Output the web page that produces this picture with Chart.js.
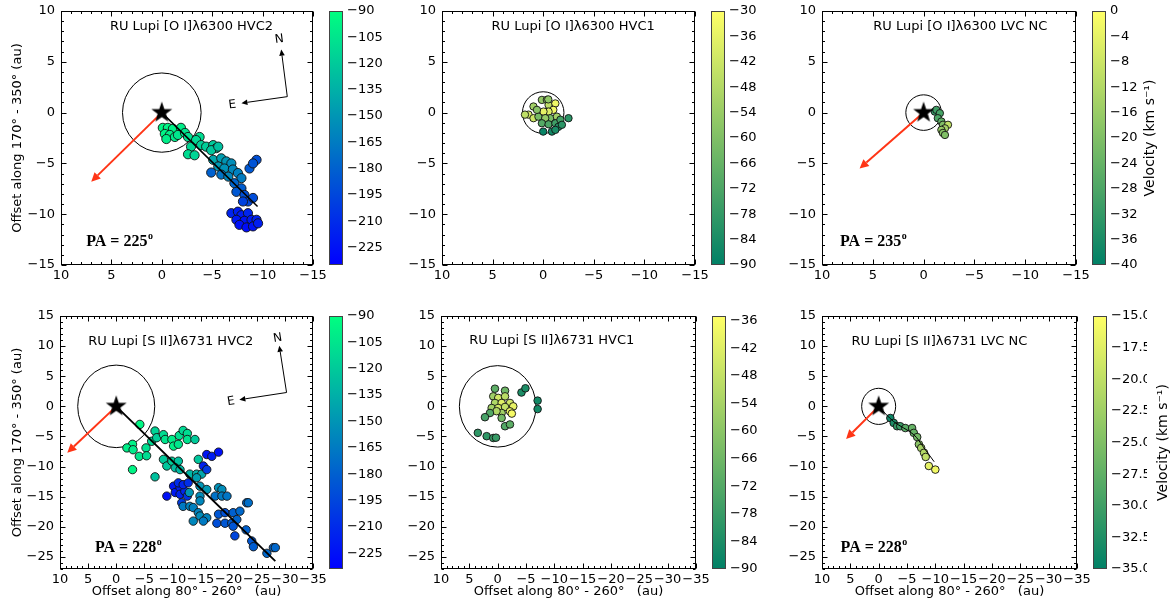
<!DOCTYPE html>
<html>
<head>
<meta charset="utf-8">
<script src="https://cdn.jsdelivr.net/npm/chart.js@4.4.0/dist/chart.umd.min.js"></script>
<style>
  body { margin: 0; background: #fff; }
  #wrap { position: relative; width: 1172px; height: 606px; }
  #wrap canvas { position: absolute; left: 0; top: 0; }
</style>
</head>
<body>
<div id="wrap">
  <canvas id="c1" width="1172" height="606"></canvas>
  <canvas id="c2" width="1172" height="606"></canvas>
  <canvas id="c3" width="1172" height="606"></canvas>
  <canvas id="c4" width="1172" height="606"></canvas>
  <canvas id="c5" width="1172" height="606"></canvas>
  <canvas id="c6" width="1172" height="606"></canvas>
</div>
<script>
// tick labels
const ticksTop = [10, 5, 0, -5, -10, -15];
const xTicksBottom = [10, 5, 0, -5, -10, -15, -20, -25, -30, -35];
const yTicksBottom = [15, 10, 5, 0, -5, -10, -15, -20, -25];
const cbTicksHvc2 = [-90, -105, -120, -135, -150, -165, -180, -195, -210, -225];
const cbTicksOiHvc1 = [-30, -36, -42, -48, -54, -60, -66, -72, -78, -84, -90];
const cbTicksOiLvc = [0, -4, -8, -12, -16, -20, -24, -28, -32, -36, -40];
const cbTicksSiiHvc1 = [-36, -42, -48, -54, -60, -66, -72, -78, -84, -90];
const cbTicksSiiLvc = [-15, -17.5, -20, -22.5, -25, -27.5, -30, -32.5, -35];

// [O I] 6300 HVC2
const oiHvc2X = [-0.1, -0.6, -1.1, -1.9, -0.3, -0.8, -0.45, -1.3, -1.6, -2.3, -2.6,
  -3.75, -3.4, -2.9, -2.6, -3.25, -3.9, -4.4, -5.1, -5.4, -4.9, -5.6,
  -5.1, -5.9, -6.4, -6.9, -5.6, -6.2, -7.05, -4.9, -5.9, -6.6, -7.55, -7.9, -8.7, -9.4, -9.05,
  -7.2, -7.9, -7.4, -8.2, -8.55, -9.05, -8.05,
  -6.9, -7.55, -7.9, -8.55, -7.4, -8.2, -8.9, -9.4, -7.7, -8.4, -9.05, -9.55];
const oiHvc2Y = [-1.5, -1.5, -1.6, -1.5, -2.1, -2.2, -2.6, -2.4, -2.2, -2.0, -2.4,
  -2.4, -2.7, -3.35, -4.1, -4.2, -3.2, -3.35, -3.2, -3.5, -3.7, -3.35,
  -4.65, -4.5, -4.8, -5.0, -5.3, -5.5, -5.6, -5.9, -6.1, -6.3, -5.95, -6.45, -5.5, -4.65, -5.0,
  -6.95, -7.45, -7.8, -8.1, -8.75, -8.4, -8.75,
  -9.9, -9.75, -10.1, -9.9, -10.55, -10.65, -10.55, -10.55, -11.05, -11.3, -11.2, -10.9];
const oiHvc2V = [-95, -96, -98, -100, -97, -99, -100, -102, -104, -105, -108,
  -110, -112, -112, -110, -114, -116, -118, -120, -124, -122, -126,
  -140, -145, -150, -155, -148, -152, -158, -180, -170, -160, -162, -165, -185, -190, -188,
  -178, -182, -185, -190, -195, -192, -198,
  -215, -218, -220, -214, -222, -225, -220, -216, -226, -228, -224, -218];

// [O I] 6300 HVC1
const oiHvc1X = [0.96, 1.45, 0.96, 0.47, 0.13, -0.36, -0.53, -1.2, -1.0, -0.53,
  -0.03, 0.62, -0.7, -0.2, -1.35, 0.13, -0.53, -1.2, -1.7, -2.5,
  -1.5, 0.0, -0.86, -1.2, -1.85, 1.8, -0.5];
const oiHvc1Y = [0.6, -0.2, -0.55, -0.4, 1.25, 1.25, 0.75, 0.9, 0.27, 0.1,
  0.1, 0.27, -0.55, -0.55, -0.4, -1.05, -1.15, -1.05, -0.7, -0.55,
  -1.4, -1.87, -1.87, -1.7, -1.2, -0.2, 1.3];
const oiHvc1V = [-52, -40, -42, -62, -55, -56, -45, -34, -33, -38,
  -36, -58, -62, -55, -52, -70, -72, -75, -74, -80,
  -82, -88, -86, -84, -80, -45, -56];

// [O I] 6300 LVC NC
const oiLvcX = [-1.1, -1.25, -1.6, -1.4, -1.75, -1.9, -2.4, -2.1, -1.75, -1.9, -2.1];
const oiLvcY = [0.1, 0.27, -0.06, -0.55, -0.88, -1.2, -1.2, -1.55, -1.7, -2.0, -2.2];
const oiLvcV = [-32, -30, -29, -28, -25, -20, -10, -14, -16, -18, -20];

// [S II] 6731 HVC2
const siiHvc2X = [-4.2, -2.9, -1.9, -3.0, -4.1, -2.9, -5.3, -5.4, -6.3, -6.9, -7.2, -8.4, -8.7, -9.9, -10.2, -11.05,
  -11.2, -11.9, -12.65, -12.65, -14.0, -6.9, -8.4, -9.0, -9.9, -11.05, -10.5, -11.35, -14.6, -13.1, -14.3, -15.2,
  -16.1, -17.0, -18.2, -15.5, -16.1,
  -9.0, -10.2, -10.5, -11.35, -11.35, -12.2, -12.65, -11.05, -11.9, -12.8, -11.65, -13.0, -11.9, -13.1,
  -14.3, -14.9, -16.1, -18.2, -18.8, -17.6, -18.8, -19.7, -14.9, -14.9, -13.7, -14.6, -13.7, -14.9, -16.1, -15.5,
  -18.2, -19.35, -20.8, -22.0, -17.9, -19.35, -20.55, -21.45, -20.8, -23.2, -23.5, -21.1, -23.1, -24.1, -24.4, -26.8, -27.95, -28.3];
const siiHvc2Y = [-3.0, -6.3, -6.9, -7.2, -8.3, -10.5, -6.9, -8.2, -5.8, -4.1, -5.2, -4.7, -5.5, -5.5, -6.6, -6.3,
  -4.85, -4.0, -4.5, -5.5, -5.5, -11.7, -8.8, -9.9, -9.1, -9.1, -10.2, -10.5, -8.8, -11.25, -11.25, -11.25,
  -8.0, -8.3, -7.6, -9.9, -10.5,
  -14.9, -13.25, -14.3, -13.5, -14.6, -14.1, -14.9, -12.7, -13.0, -12.7, -16.0, -14.3, -16.6, -16.6,
  -11.85, -13.25, -13.8, -13.5, -13.8, -14.9, -14.9, -14.9, -14.9, -15.7, -16.8, -17.65, -19.05, -18.2, -18.5, -19.05,
  -17.9, -17.65, -17.65, -17.4, -19.4, -19.4, -19.4, -18.8, -19.9, -16.0, -16.0, -21.5, -20.5, -22.35, -23.3, -24.4, -23.45, -23.45];
const siiHvc2V = [-95, -98, -100, -102, -104, -96, -108, -110, -112, -115, -118, -110, -105, -100, -98, -104,
  -108, -112, -110, -106, -120, -125, -120, -122, -118, -125, -128, -130, -122, -132, -135, -140,
  -222, -218, -225, -215, -200,
  -225, -222, -220, -218, -215, -212, -205, -210, -214, -208, -200, -150, -165, -160,
  -145, -150, -148, -152, -155, -170, -165, -168, -155, -158, -162, -160, -158, -155, -160, -165,
  -185, -188, -180, -175, -190, -185, -182, -178, -186, -175, -172, -195, -180, -185, -182, -175, -178, -176];

// [S II] 6731 HVC1
const siiHvc1X = [0.48, -1.3, 0.78, -0.1, -1.3, 0.48, -0.7, -2.17, -2.75, 1.06,
  -0.1, -1.3, -2.17, -2.5, -0.7, 0.2, 1.36, 2.24, -0.7, -1.3,
  -2.17, -4.2, -4.9, -7.05, -7.05, 3.5, 1.94, 0.78, 0.3];
const siiHvc1Y = [2.93, 2.6, 1.66, 1.4, 1.66, 0.56, 0.56, 0.56, 0.0, -0.27,
  -0.27, -0.1, -0.83, -1.2, -1.1, -0.8, -1.1, -1.8, -1.93, -3.3,
  -3.0, 2.3, 3.0, 0.95, -0.45, -4.4, -4.95, -5.25, -5.2];
const siiHvc1V = [-70, -66, -56, -45, -50, -52, -42, -45, -40, -55,
  -45, -48, -40, -37, -55, -52, -72, -75, -65, -72,
  -70, -84, -84, -86, -86, -80, -80, -78, -78];

// [S II] 6731 LVC NC
const siiLvcX = [-2.06, -2.65, -3.25, -3.8, -4.7, -5.9, -6.2, -6.8, -7.1, -7.5, -8.0, -8.3, -8.85, -10.0];
const siiLvcY = [-1.93, -2.75, -3.3, -3.3, -3.6, -3.6, -4.4, -5.1, -6.3, -6.9, -7.7, -8.4, -9.9, -10.5];
const siiLvcV = [-34, -33, -31, -30.5, -28, -27, -27, -26, -24, -22, -21, -20, -17, -16];

// jet axis lines and disk-axis arrows
const oiHvc2LineX = [0, -9.5], oiHvc2LineY = [0, -9.25];
const siiHvc2LineX = [0, -28.3], siiHvc2LineY = [0, -25.7];
const siiLvcLineX = [0, -2.6, -6.2, -8.0, -9.8], siiLvcLineY = [0, -2.5, -4.7, -6.9, -9.2];
const arrowOiHvc2 = [7.0, -6.8], arrowOiLvc = [6.3, -5.5], arrowSiiHvc2 = [8.7, -7.7], arrowSiiLvc = [5.75, -5.4];
const compassTop = { corner: [-12.45, 1.57], n: [-11.85, 6.2], e: [-7.9, 0.93], nText: [-11.65, 7.2], eText: [-7.0, 0.75] };
const compassBottom = { corner: [-30.3, 2.3], n: [-29.0, 10.05], e: [-21.9, 1.1], nText: [-28.7, 11.3], eText: [-20.4, 0.8] };

Chart.defaults.font.family = "'DejaVu Sans', sans-serif";
Chart.defaults.font.size = 13;
Chart.defaults.color = '#000';

const winter = t => `rgb(0,${Math.round(255 * t)},${Math.round(255 * (1 - 0.5 * t))})`;
const summer = t => `rgb(${Math.round(255 * t)},${Math.round(255 * (0.5 + 0.5 * t))},102)`;
const fmt = (v, d) => (v < 0 ? '\u2212' : '') + Math.abs(v).toFixed(d);

function makeStar(r) {
  const c = document.createElement('canvas');
  c.width = c.height = 2 * r + 2;
  const g = c.getContext('2d');
  g.translate(r + 1, r + 1);
  g.beginPath();
  for (let i = 0; i < 10; i++) {
    const rr = i % 2 ? r * 0.4 : r;
    const a = -Math.PI / 2 + i * Math.PI / 5;
    g.lineTo(rr * Math.cos(a), rr * Math.sin(a));
  }
  g.closePath();
  g.fillStyle = '#000';
  g.fill();
  return c;
}
const starImg = makeStar(11);

function drawArrow(ctx, x0, y0, x1, y1, color, lw, hl, hw) {
  const a = Math.atan2(y1 - y0, x1 - x0);
  const bx = x1 - hl * Math.cos(a), by = y1 - hl * Math.sin(a);
  ctx.strokeStyle = color; ctx.fillStyle = color; ctx.lineWidth = lw;
  ctx.beginPath(); ctx.moveTo(x0, y0); ctx.lineTo(bx, by); ctx.stroke();
  ctx.beginPath(); ctx.moveTo(x1, y1);
  ctx.lineTo(bx + hw * Math.sin(a), by - hw * Math.cos(a));
  ctx.lineTo(bx - hw * Math.sin(a), by + hw * Math.cos(a));
  ctx.closePath(); ctx.fill();
}

// scales report label overhang as padding; zero it so the layout keeps our chart areas
function noPad(s) { s.paddingTop = s.paddingBottom = s.paddingLeft = s.paddingRight = 0; }

function panelPlugin(p) {
  return {
    id: 'panel' + p.id,
    beforeDatasetsDraw(chart) {
      const { ctx, chartArea: a } = chart;
      const xs = chart.scales.x, ys = chart.scales.y;
      const cx = xs.getPixelForValue(0), cy = ys.getPixelForValue(0);
      ctx.save();
      ctx.beginPath(); ctx.rect(a.left, a.top, a.right - a.left, a.bottom - a.top); ctx.clip();
      const rx = Math.abs(xs.getPixelForValue(p.circleR) - cx);
      const ry = Math.abs(ys.getPixelForValue(p.circleR) - cy);
      ctx.beginPath(); ctx.ellipse(cx, cy, rx, ry, 0, 0, 2 * Math.PI);
      ctx.strokeStyle = '#000'; ctx.lineWidth = 1; ctx.stroke();
      if (p.arrow) {
        drawArrow(ctx, cx, cy, xs.getPixelForValue(p.arrow[0]), ys.getPixelForValue(p.arrow[1]), '#ff3516', 2, 9, 4.5);
      }
      ctx.restore();
    },
    afterDatasetsDraw(chart) {
      const { ctx, chartArea: a } = chart;
      const xs = chart.scales.x, ys = chart.scales.y;
      const w = a.right - a.left, h = a.bottom - a.top;
      ctx.save();
      if (p.compass) {
        const c = p.compass;
        const P = q => [xs.getPixelForValue(q[0]), ys.getPixelForValue(q[1])];
        const o = P(c.corner), n = P(c.n), e = P(c.e);
        drawArrow(ctx, o[0], o[1], n[0], n[1], '#000', 1, 6, 2.8);
        drawArrow(ctx, o[0], o[1], e[0], e[1], '#000', 1, 6, 2.8);
        const rot = Math.atan2(n[0] - o[0], o[1] - n[1]);
        ctx.font = "12px 'DejaVu Sans'"; ctx.fillStyle = '#000';
        ctx.textAlign = 'center'; ctx.textBaseline = 'middle';
        [['N', c.nText], ['E', c.eText]].forEach(([t, q]) => {
          const pt = P(q);
          ctx.save(); ctx.translate(pt[0], pt[1]); ctx.rotate(rot); ctx.fillText(t, 0, 0); ctx.restore();
        });
      }
      ctx.font = "13px 'DejaVu Sans'"; ctx.fillStyle = '#000';
      ctx.textAlign = 'left'; ctx.textBaseline = 'middle';
      ctx.fillText(p.title, a.left + p.titlePos[0] * w, a.top + p.titlePos[1] * h);
      if (p.pa) {
        const px = a.left + p.paPos[0] * w, py = a.top + p.paPos[1] * h;
        ctx.font = "bold 16px 'Liberation Serif'"; ctx.textBaseline = 'alphabetic';
        ctx.fillText(p.pa, px, py + 6);
        const tw = ctx.measureText(p.pa).width;
        ctx.font = "bold 10px 'Liberation Serif'";
        ctx.fillText('o', px + tw + 0.5, py - 1);
      }
      ctx.restore();
    },
    afterDraw(chart) {
      const { ctx, chartArea: a } = chart;
      const xs = chart.scales.x, ys = chart.scales.y;
      ctx.save();
      ctx.strokeStyle = '#000'; ctx.lineWidth = 1;
      const L = Math.round(a.left) + 0.5, T = Math.round(a.top) + 0.5;
      const R = Math.round(a.right) - 0.5, B = Math.round(a.bottom) - 0.5;
      ctx.strokeRect(L, T, R - L, B - T);
      ctx.beginPath();
      for (let v = Math.ceil(xs.min); v <= xs.max; v++) {
        const len = v % 5 === 0 ? 5 : 2.5;
        const px = Math.round(xs.getPixelForValue(v)) + 0.5;
        ctx.moveTo(px, B); ctx.lineTo(px, B - len);
        ctx.moveTo(px, T); ctx.lineTo(px, T + len);
      }
      for (let v = Math.ceil(ys.min); v <= ys.max; v++) {
        const len = v % 5 === 0 ? 5 : 2.5;
        const py = Math.round(ys.getPixelForValue(v)) + 0.5;
        ctx.moveTo(L, py); ctx.lineTo(L + len, py);
        ctx.moveTo(R, py); ctx.lineTo(R - len, py);
      }
      ctx.stroke();
      // colorbar
      const cb = chart.scales.cb;
      const bx = a.right + 16, bw = 13;
      const grad = ctx.createLinearGradient(0, a.bottom, 0, a.top);
      for (let i = 0; i <= 20; i++) grad.addColorStop(i / 20, p.cmap(i / 20));
      ctx.fillStyle = grad;
      ctx.fillRect(bx, cb.top, bw, cb.bottom - cb.top);
      ctx.strokeStyle = '#444';
      ctx.strokeRect(Math.round(bx) + 0.5, Math.round(cb.top) + 0.5, bw, Math.round(cb.bottom - cb.top) - 1);
      if (p.cbTitleX) {
        ctx.save();
        ctx.translate(p.cbTitleX, (a.top + a.bottom) / 2);
        ctx.rotate(-Math.PI / 2);
        ctx.font = "14px 'DejaVu Sans'"; ctx.fillStyle = '#000';
        ctx.textAlign = 'center'; ctx.textBaseline = 'middle';
        ctx.fillText('Velocity (km s\u207B\u00B9)', 0, 0);
        ctx.restore();
      }
      ctx.restore();
    }
  };
}

function makePanel(p) {
  const colors = p.vs.map(v => p.cmap((v - p.vmin) / (p.vmax - p.vmin)));
  const datasets = [];
  if (p.star) {
    datasets.push({ data: [{ x: 0, y: 0 }], pointStyle: starImg, pointRadius: 11, order: 0 });
  }
  if (p.lineX) {
    datasets.push({
      data: p.lineX.map((x, i) => ({ x, y: p.lineY[i] })), showLine: true,
      borderColor: '#000', borderWidth: p.lineW, pointRadius: 0, tension: 0.3, order: 1
    });
  }
  datasets.push({
    data: p.xs.map((x, i) => ({ x, y: p.ys[i] })),
    pointRadius: p.radius, pointBackgroundColor: colors,
    pointBorderColor: '#111', pointBorderWidth: 0.9, order: 2
  });
  const padLeft = p.yTitle ? 0 : p.L - 45;
  const axisBase = {
    type: 'linear',
    grid: { display: false, drawTicks: false },
    border: { display: false }
  };
  new Chart(document.getElementById(p.id), {
    type: 'scatter',
    data: { datasets },
    options: {
      responsive: false, animation: false, events: [],
      layout: { autoPadding: false, padding: { left: padLeft, right: 1172 - p.R - 70, top: p.T, bottom: 606 - p.B - 30 } },
      plugins: { legend: { display: false }, tooltip: { enabled: false } },
      scales: {
        x: Object.assign({}, axisBase, {
          min: p.xMin, max: p.xMax, reverse: true,
          afterBuildTicks: s => { s.ticks = p.xTicks.map(v => ({ value: v })); },
          afterFit: s => { s.height = 30; noPad(s); },
          ticks: { padding: 3, maxRotation: 0, autoSkip: false, callback: v => fmt(v, 0) },
          title: { display: !!p.xTitle, text: 'Offset along 80\u00B0 - 260\u00B0   (au)', padding: 0 }
        }),
        y: Object.assign({}, axisBase, {
          min: p.yMin, max: p.yMax,
          afterBuildTicks: s => { s.ticks = p.yTicks.map(v => ({ value: v })); },
          afterFit: s => { s.width = p.L - padLeft; noPad(s); },
          ticks: { padding: 6, autoSkip: false, callback: v => fmt(v, 0) },
          title: { display: !!p.yTitle, text: 'Offset along 170\u00B0 - 350\u00B0 (au)', padding: { top: 10, bottom: 0 } }
        }),
        cb: Object.assign({}, axisBase, {
          position: 'right', min: p.vmin, max: p.vmax,
          afterBuildTicks: s => { s.ticks = p.cbTicks.map(v => ({ value: v })); },
          afterFit: s => { s.width = 70; noPad(s); },
          ticks: { padding: 34, autoSkip: false, callback: v => fmt(v, p.cbDec || 0) }
        })
      }
    },
    plugins: [panelPlugin(p)]
  });
}

const topRow = { T: 11, B: 265, xMin: -15, xMax: 10, yMin: -15, yMax: 10, xTicks: ticksTop, yTicks: ticksTop };
const bottomRow = { T: 316, B: 569, xMin: -35, xMax: 10, yMin: -27, yMax: 15, xTicks: xTicksBottom, yTicks: yTicksBottom, xTitle: true };

makePanel(Object.assign({}, topRow, {
  id: 'c1', L: 61, R: 313, xs: oiHvc2X, ys: oiHvc2Y, vs: oiHvc2V, cmap: winter, vmin: -235, vmax: -90, cbTicks: cbTicksHvc2,
  radius: 4.6, star: true, lineX: oiHvc2LineX, lineY: oiHvc2LineY, lineW: 1.5, arrow: arrowOiHvc2, circleR: 3.9,
  compass: compassTop, yTitle: true,
  title: 'RU Lupi [O I]\u03BB6300 HVC2', titlePos: [0.194, 0.062], pa: 'PA = 225', paPos: [0.10, 0.90]
}));
makePanel(Object.assign({}, topRow, {
  id: 'c2', L: 442, R: 695, xs: oiHvc1X, ys: oiHvc1Y, vs: oiHvc1V, cmap: summer, vmin: -90, vmax: -30, cbTicks: cbTicksOiHvc1,
  radius: 3.7, circleR: 2.05,
  title: 'RU Lupi [O I]\u03BB6300 HVC1', titlePos: [0.196, 0.062]
}));
makePanel(Object.assign({}, topRow, {
  id: 'c3', L: 822, R: 1076, xs: oiLvcX, ys: oiLvcY, vs: oiLvcV, cmap: summer, vmin: -40, vmax: 0, cbTicks: cbTicksOiLvc,
  radius: 3.7, star: true, arrow: arrowOiLvc, circleR: 1.75, cbTitleX: 1150,
  title: 'RU Lupi [O I]\u03BB6300 LVC NC', titlePos: [0.202, 0.060], pa: 'PA = 235', paPos: [0.071, 0.90]
}));
makePanel(Object.assign({}, bottomRow, {
  id: 'c4', L: 60, R: 313, xs: siiHvc2X, ys: siiHvc2Y, vs: siiHvc2V, cmap: winter, vmin: -234, vmax: -90, cbTicks: cbTicksHvc2,
  radius: 4.2, star: true, lineX: siiHvc2LineX, lineY: siiHvc2LineY, lineW: 1.8, arrow: arrowSiiHvc2, circleR: 6.85,
  compass: compassBottom, yTitle: true,
  title: 'RU Lupi [S II]\u03BB6731 HVC2', titlePos: [0.112, 0.10], pa: 'PA = 228', paPos: [0.138, 0.91]
}));
makePanel(Object.assign({}, bottomRow, {
  id: 'c5', L: 441, R: 696, xs: siiHvc1X, ys: siiHvc1Y, vs: siiHvc1V, cmap: summer, vmin: -90, vmax: -35, cbTicks: cbTicksSiiHvc1,
  radius: 3.8, circleR: 6.76,
  title: 'RU Lupi [S II]\u03BB6731 HVC1', titlePos: [0.111, 0.098]
}));
makePanel(Object.assign({}, bottomRow, {
  id: 'c6', L: 822, R: 1077, xs: siiLvcX, ys: siiLvcY, vs: siiLvcV, cmap: summer, vmin: -35, vmax: -15, cbTicks: cbTicksSiiLvc, cbDec: 1,
  radius: 3.8, star: true, lineX: siiLvcLineX, lineY: siiLvcLineY, lineW: 1, arrow: arrowSiiLvc, circleR: 3.0, cbTitleX: 1163,
  title: 'RU Lupi [S II]\u03BB6731 LVC NC', titlePos: [0.116, 0.10], pa: 'PA = 228', paPos: [0.073, 0.91]
}));
</script>
</body>
</html>
